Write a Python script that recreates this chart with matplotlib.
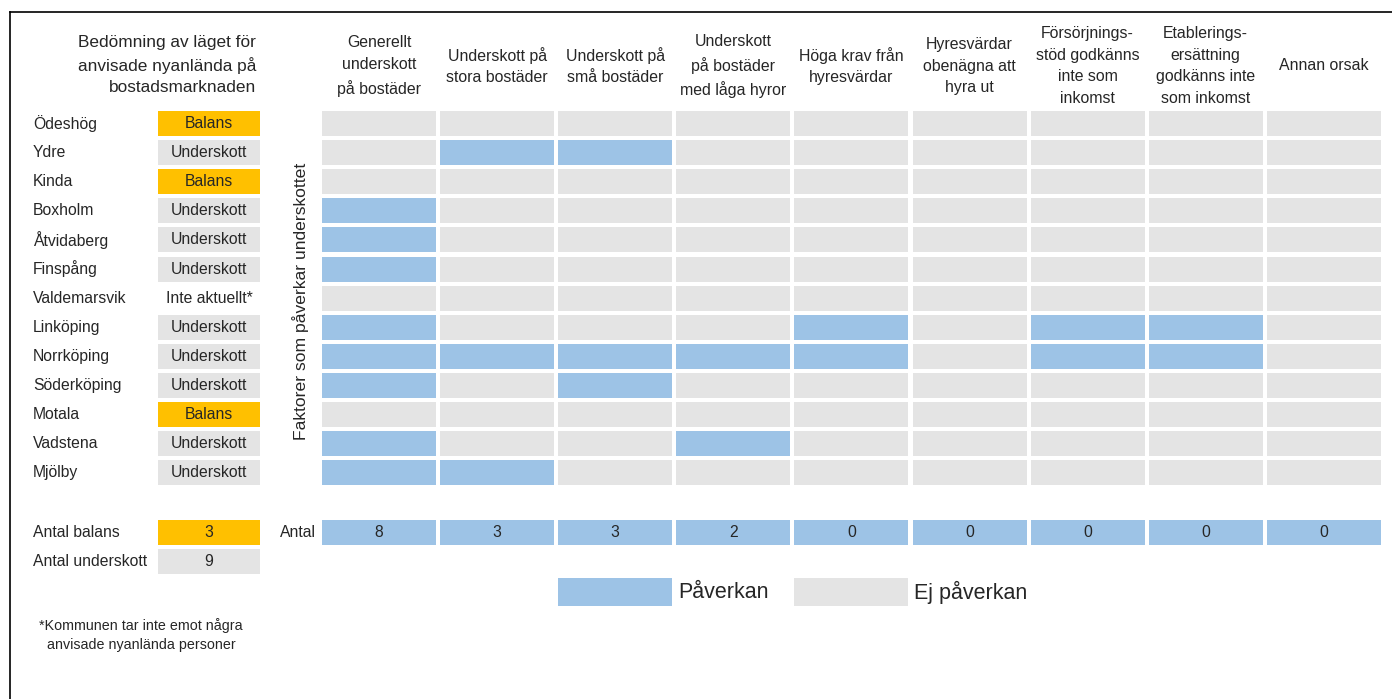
import numpy as np
import matplotlib.pyplot as plt

plt.rcParams['font.family'] = ['Liberation Sans', 'DejaVu Sans']

# Data
kommuner = ["Ödeshög", "Ydre", "Kinda", "Boxholm", "Åtvidaberg", "Finspång",
            "Valdemarsvik", "Linköping", "Norrköping", "Söderköping", "Motala",
            "Vadstena", "Mjölby"]
status = ["Balans", "Underskott", "Balans", "Underskott", "Underskott",
          "Underskott", "Inte aktuellt*", "Underskott", "Underskott",
          "Underskott", "Balans", "Underskott", "Underskott"]
faktorer = ["Generellt\nunderskott\npå bostäder",
            "Underskott på\nstora bostäder",
            "Underskott på\nsmå bostäder",
            "Underskott\npå bostäder\nmed låga hyror",
            "Höga krav från\nhyresvärdar",
            "Hyresvärdar\nobenägna att\nhyra ut",
            "Försörjnings-\nstöd godkänns\ninte som\ninkomst",
            "Etablerings-\nersättning\ngodkänns inte\nsom inkomst",
            "Annan orsak"]
# 1 = påverkan, one row per kommun, one column per faktor
paverkan = [
    [0, 0, 0, 0, 0, 0, 0, 0, 0],  # Ödeshög
    [0, 1, 1, 0, 0, 0, 0, 0, 0],  # Ydre
    [0, 0, 0, 0, 0, 0, 0, 0, 0],  # Kinda
    [1, 0, 0, 0, 0, 0, 0, 0, 0],  # Boxholm
    [1, 0, 0, 0, 0, 0, 0, 0, 0],  # Åtvidaberg
    [1, 0, 0, 0, 0, 0, 0, 0, 0],  # Finspång
    [0, 0, 0, 0, 0, 0, 0, 0, 0],  # Valdemarsvik
    [1, 0, 0, 0, 1, 0, 1, 1, 0],  # Linköping
    [1, 1, 1, 1, 1, 0, 1, 1, 0],  # Norrköping
    [1, 0, 1, 0, 0, 0, 0, 0, 0],  # Söderköping
    [0, 0, 0, 0, 0, 0, 0, 0, 0],  # Motala
    [1, 0, 0, 1, 0, 0, 0, 0, 0],  # Vadstena
    [1, 1, 0, 0, 0, 0, 0, 0, 0],  # Mjölby
]
antal = [8, 3, 3, 2, 0, 0, 0, 0, 0]
antal_balans = 3
antal_underskott = 9

# Colours
BLUE = "#9DC3E6"
GREY = "#E4E4E4"
ORANGE = "#FFC000"
TXT = "#262626"
FS = 11.3

# Layout in pixels
W, H = 1392, 699
row_top0 = 111
row_pitch = 29.1
row_h = 25
col_left0 = 322
col_pitch = 118.1
col_w = 114
stat_left = 158
stat_w = 102

fig = plt.figure(figsize=(W / 100, H / 100), dpi=100)
ax = fig.add_axes([0, 0, 1, 1])
ax.set_xlim(0, W)
ax.set_ylim(H, 0)
ax.axis('off')

# frame lines (top and left)
ax.plot([10, W], [12, 12], color="black", lw=1.2)
ax.plot([10, 10], [12, H], color="black", lw=1.2)

mat = np.array(paverkan)
n_rows, n_cols = mat.shape
col_lefts = col_left0 + np.arange(n_cols) * col_pitch
row_tops = row_top0 + np.arange(n_rows) * row_pitch

# main grid
for i in range(n_rows):
    colors = [BLUE if v else GREY for v in mat[i]]
    ax.bar(col_lefts, row_h, width=col_w, bottom=row_tops[i], align='edge',
           color=colors, linewidth=0)

# column headers
for j, f in enumerate(faktorer):
    ax.text(col_lefts[j] + col_w / 2, 66, f, ha='center', va='center',
            multialignment='center', fontsize=11.4, color=TXT, linespacing=1.55)

# left header
ax.text(256, 65, "Bedömning av läget för\nanvisade nyanlända på\nbostadsmarknaden",
        ha='right', va='center', multialignment='right', fontsize=12.4,
        color=TXT, linespacing=1.5)

# kommun names and status
stat_colors = {"Balans": ORANGE, "Underskott": GREY}
for i, (k, s) in enumerate(zip(kommuner, status)):
    yc = row_tops[i] + row_h / 2
    ax.text(33, yc, k, ha='left', va='center', fontsize=FS, color=TXT)
    if s in stat_colors:
        ax.bar(stat_left, row_h, width=stat_w, bottom=row_tops[i], align='edge',
               color=stat_colors[s], linewidth=0)
    ax.text(stat_left + stat_w / 2, yc, s, ha='center', va='center',
            fontsize=FS, color=TXT)

# vertical label
ax.text(301, 301, "Faktorer som påverkar underskottet", rotation=90,
        ha='center', va='center', fontsize=12.6, color=TXT)

# Antal row
antal_top = 520
ax.bar(col_lefts, row_h, width=col_w, bottom=antal_top, align='edge',
       color=BLUE, linewidth=0)
for j, v in enumerate(antal):
    ax.text(col_lefts[j] + col_w / 2, antal_top + row_h / 2, str(v),
            ha='center', va='center', fontsize=FS, color=TXT)
ax.text(298, antal_top + row_h / 2, "Antal", ha='center', va='center',
        fontsize=FS, color=TXT)

# Antal balans / underskott
summary = [("Antal balans", antal_balans, ORANGE),
           ("Antal underskott", antal_underskott, GREY)]
for k, (lab, v, c) in enumerate(summary):
    top = antal_top + k * 28.5
    ax.bar(stat_left, row_h, width=stat_w, bottom=top, align='edge',
           color=c, linewidth=0)
    ax.text(33, top + row_h / 2, lab, ha='left', va='center', fontsize=FS,
            color=TXT)
    ax.text(stat_left + stat_w / 2, top + row_h / 2, str(v), ha='center',
            va='center', fontsize=FS, color=TXT)

# footnote
ax.text(141, 635, "*Kommunen tar inte emot några\nanvisade nyanlända personer",
        ha='center', va='center', fontsize=10.3, color=TXT, linespacing=1.4)

# legend
leg_items = [("Påverkan", BLUE, 2), ("Ej påverkan", GREY, 4)]
for lab, c, j in leg_items:
    ax.bar(col_lefts[j], 28, width=col_w, bottom=578, align='edge',
           color=c, linewidth=0)
    ax.text(col_lefts[j] + col_w + 6, 592, lab, ha='left', va='center',
            fontsize=15.5, color=TXT)

fig.savefig("out.png", dpi=100)
